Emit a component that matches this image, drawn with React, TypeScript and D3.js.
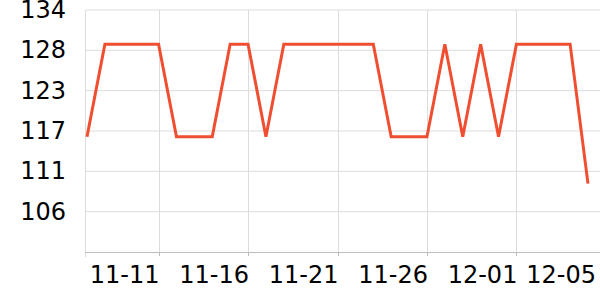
import React from "react";
import * as d3 from "d3";

const startDate = "2024-11-07";
const values: number[] = [
  116.2, 129.2, 129.2, 129.2, 129.2, 116.2, 116.2, 116.2, 129.2, 129.2,
  116.2, 129.2, 129.2, 129.2, 129.2, 129.2, 129.2, 116.2, 116.2, 116.2,
  129.2, 116.2, 129.2, 116.2, 129.2, 129.2, 129.2, 129.2, 109.6,
];
const yMin = 100;
const yMax = 134;
const yTickCount = 6;
const xTickLabels = ["11-11", "11-16", "11-21", "11-26", "12-01", "12-05"];

const W = 600;
const H = 300;
const left = 86;
const top = 10;
const bottom = 252;
const right = 600;

export default function App() {
  const parse = d3.timeParse("%Y-%m-%d");
  const start = parse(startDate) as Date;
  const data = values.map((v, i) => ({ date: d3.timeDay.offset(start, i), v }));
  const end = data[data.length - 1].date;

  const x = d3.scaleTime().domain([start, end]).range([87, 588]);
  const y = d3.scaleLinear().domain([yMin, yMax]).range([bottom, top]);

  const yTicks = d3.range(yTickCount + 1).map((k) => yMin + (k * (yMax - yMin)) / yTickCount);
  const fmt = d3.timeFormat("%m-%d");
  const tickDates = xTickLabels.map((lab) => data.find((d) => fmt(d.date) === lab)!.date);

  const line = d3
    .line<{ date: Date; v: number }>()
    .x((d) => x(d.date))
    .y((d) => y(d.v));

  const font = "'DejaVu Sans', sans-serif";

  return (
    <svg
      width={W}
      height={H}
      style={{ position: "absolute", left: 0, top: 0, background: "#fff" }}
    >
      {/* horizontal gridlines */}
      {yTicks.slice(1).map((t) => (
        <line key={"hg" + t} x1={left} x2={right} y1={y(t)} y2={y(t)} stroke="#dcdcdc" strokeWidth={1} />
      ))}
      {/* left axis line */}
      <line x1={left - 0.5} x2={left - 0.5} y1={top} y2={bottom + 5} stroke="#dcdcdc" strokeWidth={1} />
      {/* vertical gridlines (not for last label) */}
      {tickDates.slice(0, tickDates.length - 1).map((d, i) => (
        <line key={"vg" + i} x1={Math.round(x(d)) + 0.5} x2={Math.round(x(d)) + 0.5} y1={top} y2={bottom} stroke="#dcdcdc" strokeWidth={1} />
      ))}
      {/* bottom axis */}
      <line x1={left - 1} x2={right} y1={bottom + 0.5} y2={bottom + 0.5} stroke="#bdbdbd" strokeWidth={1} />
      {tickDates.slice(0, tickDates.length - 1).map((d, i) => (
        <line key={"tk" + i} x1={Math.round(x(d)) + 0.5} x2={Math.round(x(d)) + 0.5} y1={bottom} y2={bottom + 4} stroke="#bdbdbd" strokeWidth={1} />
      ))}
      {/* y labels */}
      {yTicks.slice(1).map((t) => (
        <text
          key={"yl" + t}
          x={66}
          y={y(t)}
          textAnchor="end"
          dominantBaseline="central"
          fontFamily={font}
          fontSize={24}
          fill="#000"
        >
          {Math.round(t)}
        </text>
      ))}
      {/* x labels */}
      {tickDates.map((d, i) => {
        const isLast = i === tickDates.length - 1;
        const xx = isLast ? W - 4 : x(d) + 1;
        return (
          <text
            key={"xl" + i}
            x={xx}
            y={283}
            textAnchor="end"
            fontFamily={font}
            fontSize={24}
            fill="#000"
          >
            {xTickLabels[i]}
          </text>
        );
      })}
      <path d={line(data) || ""} fill="none" stroke="#f04e30" strokeWidth={3} strokeLinejoin="miter" />
    </svg>
  );
}
